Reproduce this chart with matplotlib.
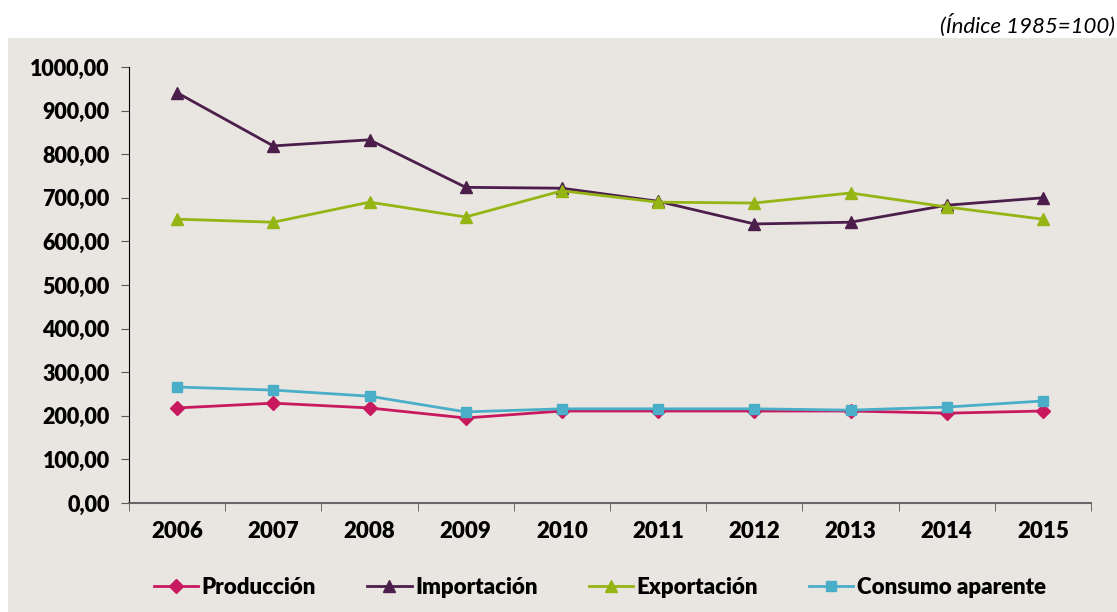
import matplotlib.pyplot as plt
import matplotlib.patches as mpatches
import numpy as np

years = ['2006', '2007', '2008', '2009', '2010', '2011', '2012', '2013', '2014', '2015']
produccion = [218, 229, 218, 195, 211, 211, 211, 211, 206, 211]
importacion = [941, 819, 833, 724, 722, 692, 640, 644, 683, 700]
exportacion = [651, 644, 690, 656, 716, 690, 688, 711, 679, 651]
consumo = [266, 259, 245, 209, 216, 216, 216, 213, 220, 234]

bg = '#E9E6E1'
plt.rcParams['font.family'] = ['Lato', 'DejaVu Sans']

fig = plt.figure(figsize=(11.17, 6.12), dpi=100)
fig.patch.set_facecolor('white')
fig.patches.append(mpatches.Rectangle((8 / 1117, 0), 1 - 8 / 1117, 1 - 38 / 612,
                                      transform=fig.transFigure, facecolor=bg,
                                      edgecolor='none', zorder=-10))
ax = fig.add_axes([129 / 1117, 1 - 503 / 612, (1091 - 129) / 1117, (503 - 67) / 612])
ax.set_facecolor(bg)

x = np.arange(len(years))
ax.plot(x, produccion, color='#C8195F', lw=2, marker='D', ms=7, label='Producción')
ax.plot(x, importacion, color='#4B1E4B', lw=2, marker='^', ms=9, label='Importación')
ax.plot(x, exportacion, color='#95B514', lw=2, marker='^', ms=9, label='Exportación')
ax.plot(x, consumo, color='#4BAEC8', lw=2, marker='s', ms=7, label='Consumo aparente')

ax.set_xlim(-0.5, len(years) - 0.5)
ax.set_ylim(0, 1000)
ax.set_yticks(np.arange(0, 1001, 100))
ax.set_yticklabels([f'{v},00' for v in range(0, 1001, 100)], fontsize=15.5, fontweight='heavy')
ax.set_xticks(x)
ax.set_xticklabels(years, fontsize=16, fontweight='heavy')
ax.set_xticks(np.arange(-0.5, len(years)), minor=True)
ax.tick_params(axis='x', which='major', length=0, pad=13)
ax.tick_params(axis='x', which='minor', length=6, color='#555555', direction='out')
ax.tick_params(axis='y', length=6, color='#555555', direction='out', pad=8)

for s in ['top', 'right']:
    ax.spines[s].set_visible(False)
ax.spines['left'].set_color('black')
ax.spines['bottom'].set_color('#666666')
ax.spines['bottom'].set_linewidth(1.5)

fig.legend(loc='center', bbox_to_anchor=(0.537, 1 - 587 / 612), ncol=4, frameon=False,
           prop={'size': 16, 'weight': 'heavy'}, handlelength=2.0, handletextpad=0.15,
           columnspacing=2.3)

fig.text(0.998, 1 - 25 / 612, '(Índice 1985=100)', ha='right', va='center',
         fontsize=16, style='italic', fontweight='normal')

fig.savefig('out.png', dpi=100, facecolor='white')
